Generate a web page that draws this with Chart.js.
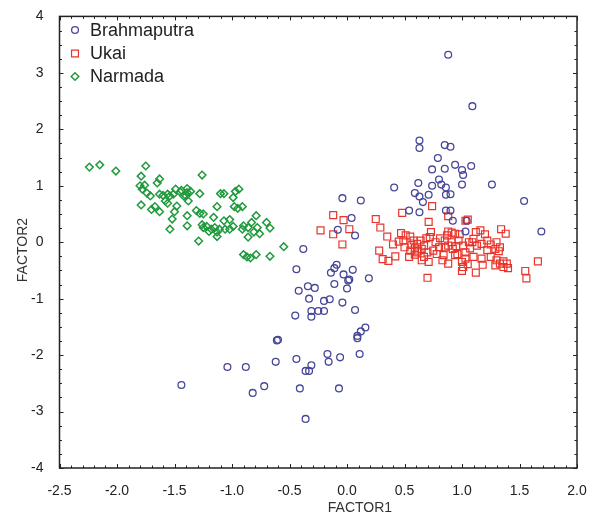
<!DOCTYPE html>
<html>
<head>
<meta charset="utf-8">
<script src="https://cdn.jsdelivr.net/npm/chart.js@4.4.1/dist/chart.umd.min.js"></script>
<style>
  html, body { margin: 0; padding: 0; background: #fff; }
  #wrap { width: 594px; height: 519px; }
</style>
</head>
<body>
<div id="wrap"><canvas id="chart" width="594" height="519"></canvas></div>
<script>
// series values, [FACTOR1, FACTOR2]
const brahmaputra = [
  [0.88, 3.32], [1.09, 2.41], [0.63, 1.80], [0.63, 1.67], [0.85, 1.72], [0.90, 1.69],
  [0.79, 1.49], [0.74, 1.29], [0.85, 1.30], [0.94, 1.37], [1.00, 1.28], [1.01, 1.19],
  [1.08, 1.35], [1.26, 1.02], [0.41, 0.97], [0.62, 1.05], [0.74, 1.00], [0.80, 1.11],
  [0.82, 1.02], [0.86, 0.97], [1.00, 1.02], [0.59, 0.87], [0.63, 0.81], [0.71, 0.84],
  [0.86, 0.84], [0.90, 0.85], [0.66, 0.71], [1.54, 0.73], [-0.04, 0.78], [0.12, 0.74],
  [0.54, 0.56], [0.63, 0.53], [0.86, 0.56], [0.90, 0.56], [0.92, 0.38], [1.04, 0.38],
  [0.04, 0.43], [-0.08, 0.22], [0.07, 0.12], [1.03, 0.19], [1.69, 0.19], [-0.38, -0.12],
  [-0.44, -0.48], [-0.09, -0.40], [-0.14, -0.54], [-0.11, -0.46], [-0.03, -0.57], [0.05, -0.49],
  [0.02, -0.66], [0.01, -0.68], [0.19, -0.64], [-0.11, -0.74], [0.00, -0.82], [-0.34, -0.78],
  [-0.28, -0.81], [-0.42, -0.86], [-0.33, -1.00], [-0.20, -1.04], [-0.15, -1.01], [-0.04, -1.07],
  [0.07, -1.20], [-0.45, -1.30], [-0.31, -1.22], [-0.25, -1.22], [-0.20, -1.22], [-0.31, -1.32],
  [0.16, -1.51], [0.12, -1.58], [0.09, -1.66], [0.09, -1.70], [-0.17, -1.98], [-0.16, -2.12],
  [-0.06, -2.04], [0.11, -1.98], [-0.44, -2.07], [-0.36, -2.28], [-0.33, -2.28], [-0.31, -2.18],
  [-0.41, -2.59], [-0.07, -2.59], [-0.36, -3.13], [-0.61, -1.74], [-0.60, -1.73], [-1.04, -2.21],
  [-0.88, -2.21], [-0.62, -2.12], [-1.44, -2.53], [-0.82, -2.67], [-0.72, -2.55]
];

const ukai = [
  [-0.12, 0.48], [-0.03, 0.39], [-0.23, 0.21], [-0.12, 0.14], [0.02, 0.23], [-0.04, -0.04],
  [0.25, 0.41], [0.29, 0.26], [0.35, 0.10], [0.40, -0.04], [0.28, -0.15], [0.31, -0.30],
  [0.36, -0.33], [0.42, -0.25], [0.48, 0.52], [0.47, 0.16], [0.51, 0.12], [0.55, 0.10],
  [0.45, 0.01], [0.49, 0.03], [0.54, -0.26], [0.59, -0.22], [0.58, 0.03], [0.59, -0.11],
  [0.55, -0.15], [0.61, -0.18], [0.74, 0.64], [0.88, 0.46], [1.03, 0.38], [1.05, 0.40],
  [0.71, 0.36], [0.73, 0.18], [0.72, 0.09], [0.88, 0.19], [0.91, 0.17], [0.94, 0.15],
  [0.87, 0.12], [0.64, 0.03], [0.61, -0.03], [0.67, -0.06], [0.65, -0.12], [0.62, -0.15],
  [0.77, 0.00], [0.80, -0.09], [0.75, -0.15], [0.78, -0.21], [0.85, 0.03], [0.88, -0.06],
  [0.91, 0.00], [0.97, 0.03], [1.01, -0.06], [1.03, -0.18], [1.06, 0.00], [1.12, 0.18],
  [1.16, 0.21], [1.10, 0.06], [1.13, -0.06], [1.17, -0.03], [1.22, 0.03], [1.30, 0.00],
  [1.33, -0.09], [1.29, -0.12], [1.32, -0.16], [1.34, 0.23], [1.38, 0.15], [0.67, -0.26],
  [0.71, -0.35], [0.65, -0.32], [0.84, -0.23], [0.88, -0.38], [0.83, -0.32], [0.96, -0.21],
  [1.00, -0.35], [1.01, -0.44], [1.03, -0.29], [1.00, -0.51], [0.94, -0.23], [1.10, -0.26],
  [1.17, -0.29], [1.12, -0.54], [1.18, -0.40], [1.30, -0.32], [1.29, -0.41], [1.33, -0.38],
  [1.36, -0.44], [1.39, -0.38], [1.36, -0.34], [1.40, -0.46], [1.66, -0.34], [1.55, -0.51],
  [1.56, -0.64], [0.70, -0.63], [0.50, -0.09], [0.69, 0.07], [0.81, 0.07], [0.95, -0.07],
  [1.07, -0.11], [1.22, -0.14], [1.25, -0.26], [0.56, -0.05], [0.92, -0.12], [1.05, -0.39],
  [0.85, -0.09], [1.09, 0.00], [1.20, 0.14], [0.98, 0.14], [0.70, -0.18], [1.25, -0.04]
];

const narmada = [
  [-2.24, 1.33], [-2.15, 1.37], [-2.01, 1.26], [-1.75, 1.35], [-1.79, 1.17], [-1.63, 1.12],
  [-1.65, 1.05], [-1.80, 1.00], [-1.76, 1.01], [-1.78, 0.94], [-1.74, 0.87], [-1.71, 0.82],
  [-1.79, 0.66], [-1.70, 0.58], [-1.67, 0.63], [-1.63, 0.54], [-1.63, 0.85], [-1.60, 0.83],
  [-1.56, 0.85], [-1.54, 0.82], [-1.51, 0.85], [-1.49, 0.94], [-1.45, 0.89], [-1.42, 0.82],
  [-1.39, 0.88], [-1.58, 0.73], [-1.56, 0.69], [-1.48, 0.64], [-1.50, 0.54], [-1.52, 0.41],
  [-1.54, 0.23], [-1.39, 0.47], [-1.39, 0.29], [-1.26, 1.19], [-1.44, 0.92], [-1.39, 0.95],
  [-1.36, 0.90], [-1.40, 0.82], [-1.38, 0.73], [-1.28, 0.86], [-1.10, 0.86], [-1.07, 0.86],
  [-0.97, 0.90], [-0.94, 0.94], [-0.99, 0.79], [-0.98, 0.63], [-0.95, 0.60], [-0.91, 0.63],
  [-1.13, 0.63], [-1.31, 0.56], [-1.28, 0.51], [-1.25, 0.50], [-1.16, 0.44], [-1.07, 0.38],
  [-1.02, 0.40], [-0.99, 0.28], [-1.02, 0.23], [-1.06, 0.23], [-1.11, 0.23], [-1.15, 0.26],
  [-1.18, 0.23], [-1.22, 0.28], [-1.25, 0.26], [-1.26, 0.31], [-1.13, 0.18], [-1.20, 0.19],
  [-1.13, 0.10], [-0.90, 0.29], [-0.91, 0.23], [-0.86, 0.26], [-0.83, 0.35], [-0.79, 0.47],
  [-0.78, 0.26], [-0.81, 0.18], [-0.86, 0.09], [-0.76, 0.15], [-0.70, 0.35], [-0.67, 0.25],
  [-1.29, 0.02], [-0.90, -0.22], [-0.87, -0.26], [-0.84, -0.28], [-0.79, -0.22], [-0.67, -0.25],
  [-0.55, -0.08]
];

const seriesNames = ['Brahmaputra', 'Ukai', 'Narmada'];
const xTicks = [-2.5, -2.0, -1.5, -1.0, -0.5, 0.0, 0.5, 1.0, 1.5, 2.0];
const yTicks = [-4, -3, -2, -1, 0, 1, 2, 3, 4];
const xTitle = 'FACTOR1';
const yTitle = 'FACTOR2';

const FONT = '"Liberation Sans", Arial, sans-serif';
const INK = '#222';

const styles = [
  { color: '#47479a', pointStyle: 'circle', radius: 3.4, borderWidth: 1.3 },
  { color: '#e8352b', pointStyle: 'rect', radius: 4.9, borderWidth: 1.2 },
  { color: '#1f9a3c', pointStyle: 'rectRot', radius: 3.8, borderWidth: 1.5 }
];

const toPoints = arr => arr.map(p => ({ x: p[0], y: p[1] }));
const allSeries = [brahmaputra, ukai, narmada];

const datasets = allSeries.map((s, i) => ({
  label: seriesNames[i],
  data: toPoints(s),
  pointStyle: styles[i].pointStyle,
  pointRadius: styles[i].radius,
  pointHoverRadius: styles[i].radius,
  pointBorderWidth: styles[i].borderWidth,
  borderColor: styles[i].color,
  backgroundColor: 'rgba(0,0,0,0)',
  showLine: false
}));

// frame with inward ticks on all four sides, legend and axis titles
const frame = {
  id: 'frame',
  afterDraw(chart) {
    const { ctx, chartArea: a, scales } = chart;
    const xs = scales.x, ys = scales.y;
    ctx.save();
    ctx.strokeStyle = INK;
    ctx.lineWidth = 1.5;
    ctx.strokeRect(a.left, a.top, a.right - a.left, a.bottom - a.top);

    ctx.lineWidth = 1;
    ctx.beginPath();
    for (let i = 0; i <= 45; i++) {
      const v = -2.5 + i * 0.1;
      const px = Math.round(xs.getPixelForValue(v)) + 0.5;
      const len = (i % 5 === 0) ? 4 : 2.5;
      ctx.moveTo(px, a.bottom); ctx.lineTo(px, a.bottom - len);
      ctx.moveTo(px, a.top); ctx.lineTo(px, a.top + len);
    }
    for (let i = 0; i <= 32; i++) {
      const v = -4 + i * 0.25;
      const py = Math.round(ys.getPixelForValue(v)) + 0.5;
      const len = (i % 4 === 0) ? 4 : 2.5;
      ctx.moveTo(a.left, py); ctx.lineTo(a.left + len, py);
      ctx.moveTo(a.right, py); ctx.lineTo(a.right - len, py);
    }
    ctx.stroke();

    // legend
    ctx.textBaseline = 'middle';
    ctx.textAlign = 'left';
    ctx.font = '18px ' + FONT;
    const rows = [30, 53.5, 76.5];
    seriesNames.forEach((name, i) => {
      const st = styles[i];
      ctx.strokeStyle = st.color;
      ctx.fillStyle = 'rgba(0,0,0,0)';
      ctx.lineWidth = st.borderWidth;
      Chart.helpers.drawPoint(ctx, { pointStyle: st.pointStyle, radius: st.radius, borderWidth: st.borderWidth }, 75, rows[i]);
      ctx.fillStyle = INK;
      ctx.fillText(name, 90, rows[i] + 1);
    });

    // axis titles
    ctx.font = '14px ' + FONT;
    ctx.fillStyle = '#333';
    ctx.textAlign = 'center';
    ctx.fillText(xTitle, 360, 508);
    ctx.translate(23, 250);
    ctx.rotate(-Math.PI / 2);
    ctx.fillText(yTitle, 0, 0);
    ctx.restore();
  }
};

new Chart(document.getElementById('chart'), {
  type: 'scatter',
  data: { datasets },
  options: {
    responsive: false,
    animation: false,
    events: [],
    layout: { padding: { top: 12, right: 17, left: 0, bottom: 0 } },
    plugins: {
      legend: { display: false },
      tooltip: { enabled: false }
    },
    scales: {
      x: {
        type: 'linear',
        min: xTicks[0],
        max: xTicks[xTicks.length - 1],
        afterBuildTicks: s => { s.ticks = xTicks.map(v => ({ value: v })); },
        afterFit: s => { s.height = 51; },
        grid: { display: false },
        border: { display: false },
        ticks: {
          padding: 7,
          color: INK,
          font: { family: FONT, size: 14 },
          maxRotation: 0,
          callback: v => v.toFixed(1)
        }
      },
      y: {
        type: 'linear',
        min: yTicks[0],
        max: yTicks[yTicks.length - 1],
        afterBuildTicks: s => { s.ticks = yTicks.map(v => ({ value: v })); },
        afterFit: s => { s.width = 59.5; },
        grid: { display: false },
        border: { display: false },
        ticks: {
          padding: 8,
          color: INK,
          font: { family: FONT, size: 14 },
          callback: v => String(v)
        }
      }
    }
  },
  plugins: [frame]
});
</script>
</body>
</html>
